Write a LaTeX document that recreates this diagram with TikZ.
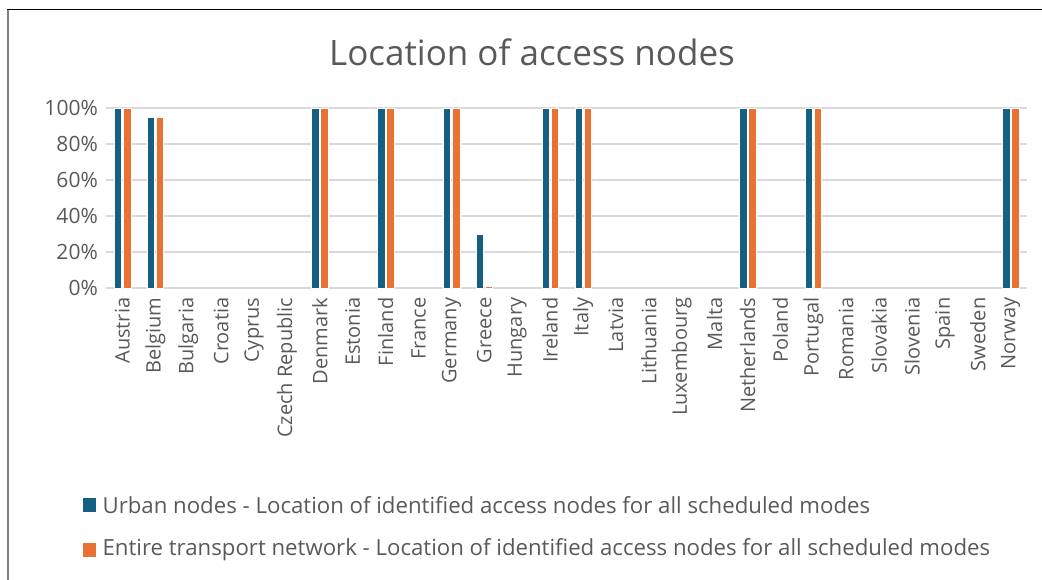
\documentclass[tikz,border=0pt]{standalone}
\usepackage{fontspec}
\setmainfont{Open Sans}
\usepackage{xcolor}
\definecolor{urban}    {HTML}{156082}
\definecolor{entire}   {HTML}{E97132}
\definecolor{txtGray}  {HTML}{595959}
\definecolor{gridGray} {HTML}{D9D9D9}
\definecolor{frameGray}{HTML}{7F7F7F}
\usetikzlibrary{positioning}
\tikzset{
    gridline/.style={gridGray, line width=1.5pt},
    ubar/.style={fill=urban, draw=white, line width=0.4pt},
    ebar/.style={fill=entire, draw=white, line width=0.4pt},
    ticklab/.style={anchor=east, text=txtGray, inner sep=0pt,
                    font=\fontsize{21}{21}\selectfont},
    catlab/.style={anchor=east, rotate=90, text=txtGray, inner sep=0pt,
                   font=\fontsize{20}{20}\selectfont},
    legkey/.style={minimum size=13.5pt, inner sep=0pt},
    legtext/.style={text=txtGray, inner sep=0pt,
                    font=\fontsize{22.2}{22.2}\selectfont},
}

\begin{document}
\begin{tikzpicture}[x=1pt, y=-1pt]
    \useasboundingbox (0,0) rectangle (1042,580);
    % chart frame
    \draw[frameGray, line width=1.2pt] (8,580) -- (8,9.5);
    \draw[black, line width=1.6pt] (7.4,9.5) -- (1042,9.5);

    \node[text=txtGray, font=\fontsize{35}{35}\selectfont] (title) at (532,52)
        {Location of access nodes};

    % value axis: 0% at 288, 100% at 108
    \foreach \v in {0,20,...,100} {
        \draw[gridline] (106,288-1.8*\v) -- (1027,288-1.8*\v);
        \node[ticklab] (tick-\v) at (98,288-1.8*\v) {\v\%};
    }

    % one group per country: urban / entire network
    \foreach \name/\u/\e [count=\i] in {
        Austria/100/100, Belgium/95/95, Bulgaria/0/0, Croatia/0/0,
        Cyprus/0/0, Czech Republic/0/0, Denmark/100/100, Estonia/0/0,
        Finland/100/100, France/0/0, Germany/100/100, Greece/30/1,
        Hungary/0/0, Ireland/100/100, Italy/100/100, Latvia/0/0,
        Lithuania/0/0, Luxembourg/0/0, Malta/0/0, Netherlands/100/100,
        Poland/0/0, Portugal/100/100, Romania/0/0, Slovakia/0/0,
        Slovenia/0/0, Spain/0/0, Sweden/0/0, Norway/100/100} {
        \pgfmathsetmacro\cx{106+(\i-0.5)*32.9}
        \ifnum\u>0
            \draw[ubar] (\cx-8.3,288) rectangle (\cx-0.8,288-1.8*\u);
        \fi
        \ifnum\e>0
            \draw[ebar] (\cx+0.8,288) rectangle (\cx+8.3,288-1.8*\e);
        \fi
        \node[catlab] (cat-\i) at (\cx,297.5) {\name};
    }

    % legend
    \node[legkey, fill=urban] (key-urban) at (89.5,505) {};
    \node[legtext, right=6pt of key-urban] (txt-urban)
        {Urban nodes - Location of identified access nodes for all scheduled modes};
    \node[legkey, fill=entire] (key-entire) at (89.5,550) {};
    \node[legtext, right=6pt of key-entire] (txt-entire)
        {Entire transport network - Location of identified access nodes for all scheduled modes};
\end{tikzpicture}
\end{document}
